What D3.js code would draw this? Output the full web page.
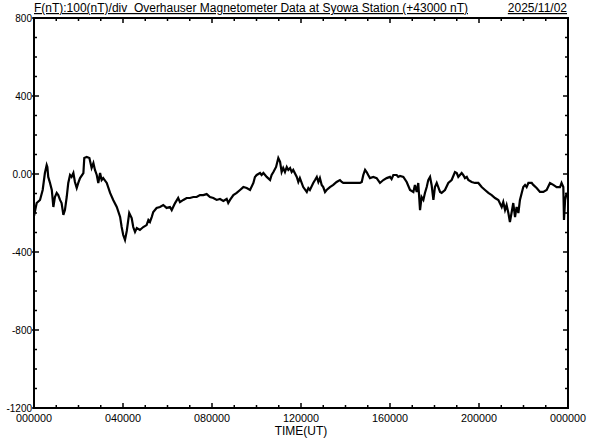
<!DOCTYPE html>
<html>
<head>
<meta charset="utf-8">
<script src="https://cdn.jsdelivr.net/npm/d3@7"></script>
<style>
html,body{margin:0;padding:0;background:#fff;}
svg{display:block;}
text{font-family:"Liberation Sans",Arial,sans-serif;fill:#000;}
</style>
</head>
<body>
<svg id="chart" width="592" height="440"></svg>
<script>
// ---- data (hours UT, nT offset from 43000 nT) ----
const hours = [0.00,0.12,0.27,0.39,0.49,0.57,0.60,0.64,0.72,0.80,0.87,0.94,1.02,1.09,1.17,1.24,1.32,1.39,1.47,1.54,1.62,1.69,1.77,1.84,1.92,1.99,2.07,2.22,2.26,2.37,2.49,2.59,2.67,2.74,2.82,2.89,2.97,3.04,3.11,3.27,3.42,3.56,3.72,3.87,3.94,4.01,4.09,4.17,4.28,4.39,4.46,4.54,4.62,4.76,4.91,5.06,5.14,5.21,5.29,5.36,5.51,5.66,5.81,5.96,6.11,6.19,6.34,6.48,6.56,6.71,6.86,7.01,7.16,7.31,7.46,7.61,7.76,7.91,8.06,8.21,8.36,8.51,8.66,8.73,8.81,8.96,9.11,9.26,9.41,9.56,9.71,9.86,9.93,10.01,10.16,10.23,10.31,10.46,10.61,10.68,10.76,10.88,10.98,11.06,11.13,11.20,11.28,11.36,11.43,11.51,11.58,11.65,11.81,11.88,11.95,12.10,12.26,12.33,12.40,12.55,12.63,12.71,12.78,12.85,12.93,13.00,13.08,13.15,13.30,13.45,13.60,13.75,13.83,13.90,14.20,14.50,14.65,14.73,14.80,14.88,14.95,15.02,15.10,15.25,15.40,15.55,15.70,15.85,16.00,16.07,16.15,16.30,16.37,16.45,16.60,16.75,16.90,17.05,17.12,17.20,17.27,17.35,17.42,17.50,17.57,17.65,17.72,17.80,17.87,17.95,18.02,18.10,18.17,18.25,18.32,18.47,18.62,18.77,18.92,19.00,19.07,19.22,19.29,19.37,19.45,19.52,19.67,19.82,19.97,20.12,20.27,20.42,20.57,20.72,20.87,21.02,21.09,21.17,21.24,21.32,21.39,21.47,21.54,21.62,21.69,21.77,21.84,21.92,21.99,22.07,22.14,22.22,22.37,22.44,22.59,22.74,22.89,23.04,23.19,23.34,23.49,23.64,23.71,23.79,23.82,23.87,23.94,23.98];
const fValues = [-215,-149,-133,-82,5,46,36,-15,-46,-82,-169,-118,-97,-108,-133,-149,-210,-185,-118,-46,-5,-15,5,-41,-72,-46,-21,5,82,87,82,31,56,21,-5,-46,5,-31,-21,-46,-97,-133,-169,-220,-272,-313,-338,-292,-200,-226,-272,-297,-277,-287,-272,-262,-236,-246,-221,-195,-174,-169,-159,-174,-169,-185,-149,-123,-144,-133,-123,-123,-118,-118,-108,-108,-103,-118,-123,-133,-128,-138,-128,-149,-133,-108,-97,-82,-67,-72,-82,-46,-15,-5,5,-5,5,-15,-31,-5,10,36,82,62,10,31,10,36,21,31,10,21,-15,-41,-21,-67,-92,-72,-82,-46,-31,-15,-41,-21,-56,-67,-92,-82,-67,-56,-41,-31,-41,-46,-46,-46,-46,-41,-5,21,10,-5,-21,-15,-21,-46,-31,-21,-15,-26,-5,-5,-15,-10,-15,-41,-82,-92,-56,-92,-46,-185,-118,-133,-97,-67,-31,-15,-56,-133,-67,-46,-67,-92,-97,-82,-46,-31,10,5,-15,5,-5,-21,-15,-31,-41,-46,-46,-67,-82,-97,-108,-123,-133,-169,-144,-185,-159,-200,-246,-195,-149,-221,-169,-200,-133,-97,-67,-56,-67,-46,-46,-56,-72,-92,-92,-82,-46,-56,-67,-67,-46,-67,-236,-133,-97,-118];
const yTickValues = [800, 400, 0, -400, -800, -1200];
const yTickLabels = ["800", "400", "0.00", "-400", "-800", "-1200"];
const xTickHours = [0, 4, 8, 12, 16, 20, 24];
const xTickLabels = ["000000", "040000", "080000", "120000", "160000", "200000", "000000"];
const titleText = "F(nT):100(nT)/div  Overhauser Magnetometer Data at Syowa Station (+43000 nT)";
const dateText = "2025/11/02";
const xAxisTitle = "TIME(UT)";

// ---- layout ----
const L = 34, R = 568, T = 18, B = 408;
const svg = d3.select("#chart");
const x = d3.scaleLinear().domain([0, 24]).range([L, R]);
const y = d3.scaleLinear().domain([-1200, 800]).range([B, T]);

// line
const pts = hours.map((h, i) => [h, fValues[i]]);
svg.append("path")
  .datum(pts)
  .attr("fill", "none")
  .attr("stroke", "#000")
  .attr("stroke-width", 2.2)
  .attr("stroke-linejoin", "miter")
  .attr("d", d3.line().x(d => x(d[0])).y(d => y(d[1])));

// ticks
const hourTicks = d3.range(0, 25);
const nTTicks = d3.range(-1200, 801, 100);
const tk = svg.append("g").attr("stroke", "#000").attr("stroke-width", 1.5);
hourTicks.forEach(h => {
  const len = (h % 4 === 0) ? 5 : 3;
  tk.append("line").attr("x1", x(h)).attr("x2", x(h)).attr("y1", B).attr("y2", B - len);
  tk.append("line").attr("x1", x(h)).attr("x2", x(h)).attr("y1", T).attr("y2", T + len);
});
nTTicks.forEach(v => {
  const major = v % 400 === 0;
  tk.append("line").attr("x1", major ? L - 2 : L).attr("x2", L + (major ? 5 : 3)).attr("y1", y(v)).attr("y2", y(v));
  tk.append("line").attr("x1", R).attr("x2", R - (major ? 5 : 3)).attr("y1", y(v)).attr("y2", y(v));
});

// frame
svg.append("rect")
  .attr("x", L).attr("y", T).attr("width", R - L).attr("height", B - T)
  .attr("fill", "none").attr("stroke", "#000").attr("stroke-width", 2);

// y labels
svg.append("g").selectAll("text").data(yTickValues).join("text")
  .attr("x", L - 2).attr("y", d => y(d))
  .attr("dy", "0.35em")
  .attr("text-anchor", "end")
  .attr("font-size", 10)
  .text((d, i) => yTickLabels[i]);

// x labels
svg.append("g").selectAll("text").data(xTickHours).join("text")
  .attr("x", d => x(d)).attr("y", 422)
  .attr("text-anchor", "middle")
  .attr("font-size", 10)
  .attr("textLength", 36).attr("lengthAdjust", "spacingAndGlyphs")
  .text((d, i) => xTickLabels[i]);

// x axis title
svg.append("text")
  .attr("x", (L + R) / 2).attr("y", 435)
  .attr("text-anchor", "middle")
  .attr("font-size", 12)
  .text(xAxisTitle);

// title
svg.append("text")
  .attr("x", L).attr("y", 12)
  .attr("font-size", 12)
  .attr("xml:space", "preserve")
  .style("white-space", "pre")
  .attr("textLength", 434).attr("lengthAdjust", "spacingAndGlyphs")
  .style("text-decoration", "underline")
  .text(titleText);

svg.append("text")
  .attr("x", 567).attr("y", 12)
  .attr("text-anchor", "end")
  .attr("font-size", 12)
  .style("text-decoration", "underline")
  .text(dateText);
</script>
</body>
</html>
